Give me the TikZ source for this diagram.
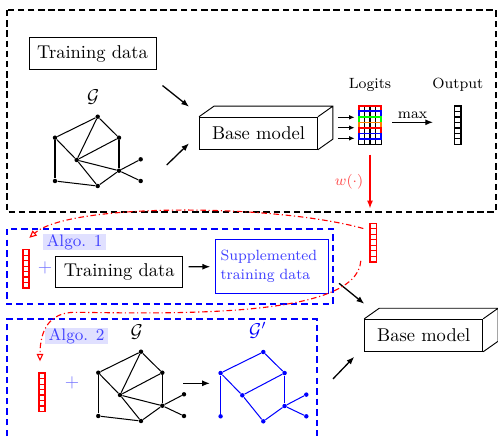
\documentclass[tikz,border=0pt]{standalone}
\usepackage{tikz}
\usetikzlibrary{arrows.meta,positioning,calc}

\begin{document}
\begin{tikzpicture}[x=0.54pt, y=-0.54pt,
    arr/.style={-{Latex[length=4.2pt,width=3.2pt]}, line width=0.7pt},
    smallarr/.style={-{Latex[length=3pt,width=2.6pt]}, line width=0.7pt},
    redcurve/.style={red, line width=0.6pt, dash pattern=on 3pt off 1.5pt on 0.6pt off 1.5pt,
      -{Triangle[open,length=4pt,width=3.6pt]}},
    databox/.style={draw, line width=0.5pt, minimum width=68.6pt, minimum height=16.8pt},
    basebox/.style={draw, line width=0.5pt, minimum width=63.7pt, minimum height=17.3pt},
    suppbox/.style={draw=blue, text=blue!75, line width=0.5pt, font=\footnotesize, align=left,
      text width=55pt, inner xsep=3pt, minimum height=29pt},
    algo/.style={fill=blue!12, text=blue!75, font=\small, inner xsep=2pt, inner ysep=0.4pt},
    dot/.style={circle, fill, inner sep=0pt, minimum size=2.4pt},
    edge/.style={line width=0.55pt},
    vecbar/.style={draw, line width=0.9pt, inner sep=0pt, minimum width=3.4pt, minimum height=20.7pt,
      path picture={\foreach \k in {1,...,6}
        \draw[line width=0.6pt] ($(path picture bounding box.north west)!\k/7!(path picture bounding box.south west)$)
          -- ($(path picture bounding box.north east)!\k/7!(path picture bounding box.south east)$);}},
    outerbox/.style={line width=0.8pt, dash pattern=on 3.5pt off 2pt},
    bluebox/.style={blue, line width=0.9pt, dash pattern=on 3.5pt off 2.2pt}]

\useasboundingbox (0,0) rectangle (498,436);

% base model training
\draw[outerbox] (7,10) rectangle (496,212);
\node[databox] (td1) at (92.5,53.5) {Training data};

\foreach \gname/\gx/\gy in {g1/97.7/116.7, g2/141/351.7} {
  \begin{scope}[shift={(\gx,\gy)}]
    \foreach \n/\dx/\dy in {a/0/0, b/-42.7/21, c/21.3/21, d/-21/43.3, e/21.3/54,
                            f/43/42.6, g/43/64.3, h/-42.7/64.3, i/0/69.3}
      \node[dot] (\gname\n) at (\dx,\dy) {};
    \node (\gname-lab) at (-4.4,-20) {$\mathcal{G}$};
  \end{scope}
  \foreach \u/\v in {a/b, a/c, a/d, b/d, b/h, c/d, c/e, d/e, d/i, e/f, e/g, e/i, h/i}
    \draw[edge] (\gname\u) -- (\gname\v);
}

\node[basebox] (bm1) at (258.5,133.2) {Base model};
\node[basebox] (bm2) at (423.7,335.3) {Base model};
\foreach \b in {bm1,bm2}
  \draw[line width=0.5pt] (\b.north west) -- ++(15,-10.6) -| ([shift={(15,-10.6)}]\b.south east)
    -- (\b.south east) (\b.north east) -- ++(15,-10.6);

\draw[arr] ($(td1.south east)+(6,16)$) -- ($(bm1.west)+(-10,-26.5)$);
\draw[arr] ($(g1f)+(26,5.7)$) -- ($(bm1.west)+(-10,10.1)$);

% logits and output
\node[minimum width=11.9pt, minimum height=20.5pt, inner sep=0pt] (logits) at (370,125.2) {};
\foreach \c in {0,...,4}
  \draw[line width=0.7pt] ($(logits.north west)!\c/4!(logits.north east)$) -- ($(logits.south west)!\c/4!(logits.south east)$);
\foreach \c in {0,...,7}
  \draw[line width=0.7pt] ($(logits.north west)!\c/7!(logits.south west)$) -- ($(logits.north east)!\c/7!(logits.south east)$);
\foreach \col [count=\nxt] in {red,blue,green,orange,red,blue} {
  \pgfmathtruncatemacro\row{\nxt-1}
  \draw[\col, line width=1pt] ($(logits.north west)!\row/7!(logits.south west)$) rectangle ($(logits.north east)!\nxt/7!(logits.south east)$);
}
\node[font=\footnotesize, above=4pt of logits] (logits-lab) {Logits};
\node[vecbar] (outv) at (457.8,125.2) {};
\node[font=\footnotesize, above=4pt of outv] (out-lab) {Output};

\foreach \dy in {-7.9,2.5,13.1}
  \draw[smallarr] ($(logits.west)+(-20.7,\dy)$) -- ($(logits.west)+(-4,\dy)$);
\draw[arr] ($(logits.east)+(10.7,-2.9)$) -- ($(outv.west)+(-20.7,-2.9)$)
  node[midway, above, font=\footnotesize, inner sep=1.5pt] {max};

\node[vecbar, red] (vr) at (373.3,242.5) {};
\draw[arr, red] ($(logits.south)+(0,10)$) -- ($(vr.north)+(-3.3,-14)$)
  node[midway, left, text=red!70, font=\footnotesize] {$w(\cdot)$};

% Algo. 1
\draw[bluebox] (7,229) rectangle (333,304);
\node[algo] (algo1) at (74.5,242) {Algo. 1};
\node[vecbar, red] (v1) at (26,268.8) {};
\node[text=blue!55] (plus1) at (45,268) {$+$};
\node[databox] (td2) at (119.3,271.7) {Training data};
\node[suppbox] (supp) at (271.5,266.3) {Supplemented\\[1pt]training data};
\draw[arr] ($(td2.east)+(5.3,-5)$) -- ($(supp.west)+(-4.3,0.4)$);

% Algo. 2
\draw[bluebox] (7,436) -- (7,319) -- (317,319) -- (317,436);
\node[algo] (algo2) at (76.5,336) {Algo. 2};
\node[vecbar, red] (v2) at (42,392.3) {};
\node[text=blue!55] (plus2) at (72,383.3) {$+$};

\begin{scope}[shift={(263.3,352)}, blue]
  \foreach \n/\dx/\dy in {a/0/0, b/-42.7/21, c/21.3/21, d/-21/43.3, e/21.3/54,
                          f/43/42.6, g/43/64.3, h/-42.7/64.3, i/0/69.3}
    \node[dot] (gp\n) at (\dx,\dy) {};
  \node (gp-lab) at (-5.5,-22) {$\mathcal{G}'$};
\end{scope}
\foreach \u/\v in {a/b, a/c, b/d, b/h, c/d, c/e, d/i, e/f, e/g, e/i}
  \draw[edge, blue] (gp\u) -- (gp\v);

\draw[arr] ($(g2f)+(-0.7,-11)$) -- ($(gpb)+(-10.6,10.3)$);
\draw[arr] ($(supp.east)+(10.6,17)$) -- ($(bm2.north west)+(0,-15)$);
\draw[arr] ($(gpf)+(26.7,-15.7)$) -- ($(bm2.south west)+(-10,5)$);

% weights fed back
\coordinate (ca) at ($(vr.north west)+(-6,6)$);
\coordinate (ea) at ($(v1.north)+(3.3,-11)$);
\draw[redcurve] (ca) .. controls ($(ca)+(-90,-25)$) and ($(ea)+(40,-35)$) .. (ea);
\coordinate (cb) at ($(vr.south west)+(-8.5,-1.7)$);
\coordinate (mb) at ($(v2.north)+(33,-60)$);
\coordinate (eb) at ($(v2.north)+(-2,-11)$);
\draw[redcurve] (cb) .. controls ($(cb)+(-3.7,58)$) and ($(mb)+(95,1)$) .. (mb)
  .. controls ($(mb)+(-25,0)$) and ($(eb)+(0,-32)$) .. (eb);
\end{tikzpicture}
\end{document}
